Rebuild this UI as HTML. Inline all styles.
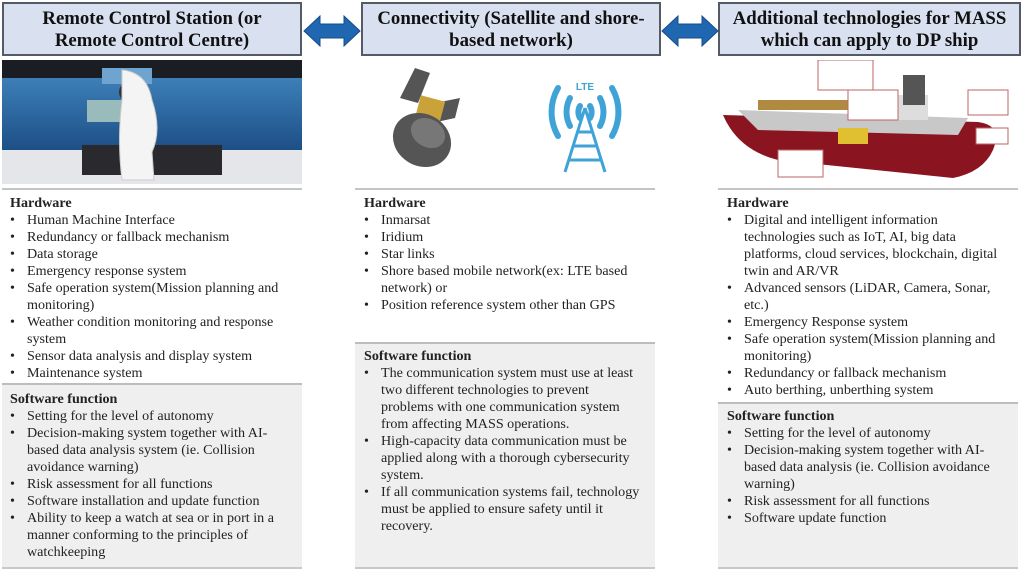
<!DOCTYPE html>
<html><head><meta charset="utf-8"><style>
*{margin:0;padding:0;box-sizing:border-box}
body{width:1024px;height:572px;background:#fff;position:relative;overflow:hidden;font-family:"Liberation Serif",serif;color:#222}
.hd{position:absolute;top:2px;height:54px;background:#d9e1f1;border:2px solid #555b66;font-weight:bold;font-size:18.8px;line-height:22px;text-align:center;padding-top:4px;color:#111}
.sep{position:absolute;height:2px;background:#c4c4c4}
.sw{position:absolute;background:#efefef;border-top:2px solid #bdbdbd;border-bottom:2px solid #c8c8c8}
.tx{position:absolute;font-size:14.1px;line-height:17px;white-space:nowrap}
.tx b{display:block}
.li{position:relative;padding-left:17px}
.li:before{content:"•";position:absolute;left:0}
.c{padding-left:17px}
</style></head><body>

<div class="hd" style="left:2px;width:300px">Remote Control Station (or<br>Remote Control Centre)</div>
<div class="hd" style="left:361px;width:300px">Connectivity (Satellite and shore-<br>based network)</div>
<div class="hd" style="left:718px;width:303px">Additional technologies for MASS<br>which can apply to DP ship</div>

<svg style="position:absolute;left:302px;top:14px" width="60" height="34"><polygon points="2,17 18,2 18,10 42,10 42,2 58,17 42,32 42,24 18,24 18,32" fill="#1f67b1" stroke="#164d86"/></svg>
<svg style="position:absolute;left:660px;top:14px" width="60" height="34"><polygon points="2,17 18,2 18,10 42,10 42,2 58,17 42,32 42,24 18,24 18,32" fill="#1f67b1" stroke="#164d86"/></svg>

<svg style="position:absolute;left:2px;top:60px" width="300" height="124">
<defs><linearGradient id="sea" x1="0" y1="0" x2="0" y2="1"><stop offset="0" stop-color="#3d7fb8"/><stop offset="1" stop-color="#1d4f86"/></linearGradient></defs>
<rect width="300" height="124" fill="#d8dde2"/>
<rect width="300" height="18" fill="#1a1d22"/>
<rect x="0" y="18" width="300" height="72" fill="url(#sea)"/>
<rect x="100" y="8" width="50" height="16" fill="#6fa4d0"/>
<rect x="0" y="90" width="300" height="34" fill="#e4e6ea"/>
<rect x="80" y="85" width="140" height="30" fill="#2a2a2e"/>
<ellipse cx="125" cy="32" rx="8" ry="9" fill="#333"/>
<rect x="85" y="40" width="40" height="22" fill="#9bb" />
<path d="M120 10 Q145 12 150 40 Q160 70 150 92 L152 120 L120 120 Q115 80 120 40 Z" fill="#f4f4f4" stroke="#ccc"/>
</svg>

<svg style="position:absolute;left:380px;top:68px" width="260" height="110">
<polygon points="20,30 35,0 50,5 38,35" fill="#555"/>
<polygon points="55,35 80,30 75,50 52,55" fill="#555"/>
<rect x="38" y="30" width="25" height="22" fill="#c9a23a" transform="rotate(15 50 40)"/>
<ellipse cx="42" cy="72" rx="30" ry="26" fill="#555" transform="rotate(30 42 72)"/>
<ellipse cx="48" cy="65" rx="18" ry="14" fill="#777" transform="rotate(30 48 65)"/>
<g fill="none" stroke="#3fa3d8" stroke-width="6" stroke-linecap="round">
<path d="M178 20 A48 48 0 0 0 178 68"/><path d="M232 20 A48 48 0 0 1 232 68"/>
<path d="M190 30 A30 30 0 0 0 190 58"/><path d="M220 30 A30 30 0 0 1 220 58"/>
<path d="M200 38 A12 12 0 0 0 200 50"/><path d="M210 38 A12 12 0 0 1 210 50"/>
</g>
<g stroke="#3fa3d8" stroke-width="3" fill="none"><path d="M205 40 L185 104 M205 40 L225 104 M193 78 L217 78 M189 92 L221 92 M197 64 L213 64"/></g>
<text x="205" y="22" font-family="Liberation Sans" font-size="10" font-weight="bold" fill="#3fa3d8" text-anchor="middle">LTE</text>
</svg>

<svg style="position:absolute;left:718px;top:60px" width="302" height="124">
<path d="M5 55 L260 62 Q285 65 275 90 Q265 112 235 118 L60 100 Q20 90 5 55 Z" fill="#8a1420"/>
<path d="M20 50 L250 58 L240 75 L40 70 Z" fill="#c8c8c8"/>
<rect x="40" y="40" width="110" height="10" fill="#b08a40"/>
<rect x="150" y="35" width="60" height="25" fill="#ddd"/>
<rect x="185" y="15" width="22" height="30" fill="#555"/>
<rect x="130" y="30" width="50" height="30" fill="#fff" stroke="#b66"/>
<rect x="100" y="0" width="55" height="30" fill="#fff" stroke="#b66"/>
<rect x="60" y="90" width="45" height="27" fill="#fff" stroke="#b66"/>
<rect x="250" y="30" width="40" height="25" fill="#fff" stroke="#b66"/>
<rect x="258" y="68" width="32" height="16" fill="#fff" stroke="#b66"/>
<rect x="120" y="68" width="30" height="16" fill="#e0c030"/>
</svg>

<div class="sep" style="left:2px;top:188px;width:300px"></div>
<div class="sep" style="left:355px;top:188px;width:300px"></div>
<div class="sep" style="left:718px;top:188px;width:300px"></div>

<div class="sw" style="left:2px;top:383px;width:300px;height:186px"></div>
<div class="sw" style="left:355px;top:342px;width:300px;height:227px"></div>
<div class="sw" style="left:718px;top:402px;width:300px;height:167px"></div>

<div class="tx" style="left:10px;top:195px">
<b>Hardware</b>
<div class="li">Human Machine Interface</div>
<div class="li">Redundancy or fallback mechanism</div>
<div class="li">Data storage</div>
<div class="li">Emergency response system</div>
<div class="li">Safe operation system(Mission planning and</div><div class="c">monitoring)</div>
<div class="li">Weather condition monitoring and response</div><div class="c">system</div>
<div class="li">Sensor data analysis and display system</div>
<div class="li">Maintenance system</div>
</div>
<div class="tx" style="left:10px;top:391px">
<b>Software function</b>
<div class="li">Setting for the level of autonomy</div>
<div class="li">Decision-making system together with AI-</div><div class="c">based data analysis system (ie. Collision</div><div class="c">avoidance warning)</div>
<div class="li">Risk assessment for all functions</div>
<div class="li">Software installation and update function</div>
<div class="li">Ability to keep a watch at sea or in port in a</div><div class="c">manner conforming to the principles of</div><div class="c">watchkeeping</div>
</div>

<div class="tx" style="left:364px;top:195px">
<b>Hardware</b>
<div class="li">Inmarsat</div>
<div class="li">Iridium</div>
<div class="li">Star links</div>
<div class="li">Shore based mobile network(ex: LTE based</div><div class="c">network) or</div>
<div class="li">Position reference system other than GPS</div>
</div>
<div class="tx" style="left:364px;top:348px">
<b>Software function</b>
<div class="li">The communication system must use at least</div><div class="c">two different technologies to prevent</div><div class="c">problems with one communication system</div><div class="c">from affecting MASS operations.</div>
<div class="li">High-capacity data communication must be</div><div class="c">applied along with a thorough cybersecurity</div><div class="c">system.</div>
<div class="li">If all communication systems fail, technology</div><div class="c">must be applied to ensure safety until it</div><div class="c">recovery.</div>
</div>

<div class="tx" style="left:727px;top:195px">
<b>Hardware</b>
<div class="li">Digital and intelligent information</div><div class="c">technologies such as IoT, AI, big data</div><div class="c">platforms, cloud services, blockchain, digital</div><div class="c">twin and AR/VR</div>
<div class="li">Advanced sensors (LiDAR, Camera, Sonar,</div><div class="c">etc.)</div>
<div class="li">Emergency Response system</div>
<div class="li">Safe operation system(Mission planning and</div><div class="c">monitoring)</div>
<div class="li">Redundancy or fallback mechanism</div>
<div class="li">Auto berthing, unberthing system</div>
</div>
<div class="tx" style="left:727px;top:408px">
<b>Software function</b>
<div class="li">Setting for the level of autonomy</div>
<div class="li">Decision-making system together with AI-</div><div class="c">based data analysis (ie. Collision avoidance</div><div class="c">warning)</div>
<div class="li">Risk assessment for all functions</div>
<div class="li">Software update function</div>
</div>

</body></html>
